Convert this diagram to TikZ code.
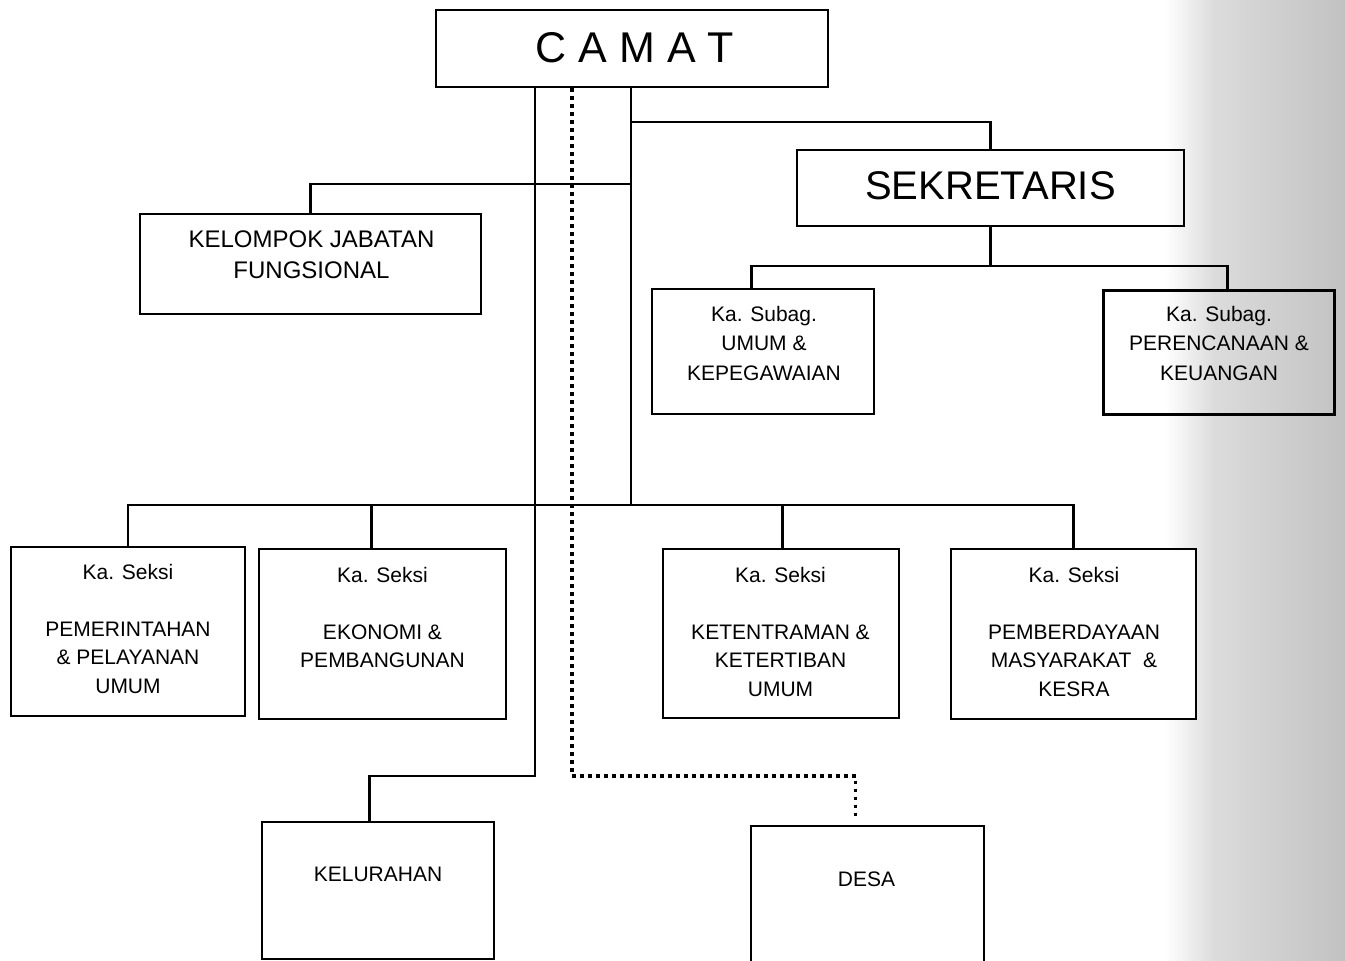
\documentclass[tikz,border=0pt]{standalone}
\usepackage{fontspec}
\setmainfont{Liberation Sans}
\usetikzlibrary{calc}
\newcommand\myfA{\fontsize{21}{28.5}\selectfont}
\newcommand\myfB{\fontsize{21}{29.5}\selectfont}
\newcommand\myfC{\fontsize{24}{31}\selectfont}
\newcommand\myfD{\fontsize{40}{48}\selectfont}
\newcommand\myfE{\fontsize{43}{50}\selectfont}
\begin{document}
\begin{tikzpicture}[x=1pt,y=-1pt,
  box/.style={draw, line width=2.7pt, inner sep=0pt},
  txt/.style={inner sep=0pt, align=center, anchor=north},
  conn/.style={line width=2.7pt},
  dotline/.style={line width=3.2pt, dash pattern=on 3.2pt off 4.8pt}]
\useasboundingbox (0,0) rectangle (1345,961);
\shade[left color=white, right color=black!14] (1165,0) rectangle (1215,961);
\shade[left color=black!14, right color=black!24] (1215,0) rectangle (1345,961);

% boxes
\node[box, minimum width=392pt, minimum height=77pt] (camat) at (632,48.5) {};
\node[box, minimum width=387pt, minimum height=76pt] (sek) at (990.5,188) {};
\node[box, minimum width=341pt, minimum height=100pt] (kjf) at (310.5,264) {};
\node[box, minimum width=222pt, minimum height=125pt] (umum) at (763,351.5) {};
\node[box, line width=3pt, minimum width=231pt, minimum height=124pt] (ren) at (1218.5,352) {};
\node[box, minimum width=234pt, minimum height=169pt] (s1) at (128,631.5) {};
\node[box, minimum width=247pt, minimum height=170pt] (s2) at (382.5,634) {};
\node[box, minimum width=236pt, minimum height=169pt] (s3) at (781,633.5) {};
\node[box, fill=white, minimum width=245pt, minimum height=170pt] (s4) at (1073.5,634) {};
\node[box, minimum width=232pt, minimum height=137pt] (kel) at (378,890.5) {};
\node[box, minimum width=233pt, minimum height=139pt] (desa) at (867.5,895.5) {};

% texts
\node[txt, font=\myfE] (tcamat) at (635,32) {C\ A\ M\ A\ T};
\node[txt, font=\myfD] (tsek) at (990.5,171) {SEKRETARIS};
\node[txt, font=\myfC] (tkjf) at (311.5,231) {KELOMPOK JABATAN\\FUNGSIONAL};
\node[txt, font=\myfB] (tumum) at (764,306) {Ka. Subag.\\UMUM \&\\KEPEGAWAIAN};
\node[txt, font=\myfB] (tren) at (1219,306) {Ka. Subag.\\PERENCANAAN \&\\KEUANGAN};
\node[txt, font=\myfA] (ts1) at (128,564) {Ka. Seksi\\ \\PEMERINTAHAN\\\& PELAYANAN\\UMUM};
\node[txt, font=\myfA] (ts2) at (382.5,567) {Ka. Seksi\\ \\EKONOMI \&\\PEMBANGUNAN};
\node[txt, font=\myfA] (ts3) at (780.5,567) {Ka. Seksi\\ \\KETENTRAMAN \&\\KETERTIBAN\\UMUM};
\node[txt, font=\myfA] (ts4) at (1074,567) {Ka. Seksi\\ \\PEMBERDAYAAN\\MASYARAKAT\ \ \&\\KESRA};
\node[txt, font=\myfA] (tkel) at (378,867) {KELURAHAN};
\node[txt, font=\myfA] (tdesa) at (866.5,872) {DESA};

% connector coordinates
\coordinate (a1) at (535,776);
\coordinate (d1) at (572,776);
\coordinate (r1) at (631,505);
\coordinate (r2) at (631,122);
\coordinate (r3) at (631,184);
\coordinate (s0) at (990.5,266);
\coordinate (bL) at (128,505);
\coordinate (bR) at (1073.5,505);
\coordinate (kelT) at ($(kel.north west)+(109,0)$);
\coordinate (desaT) at ($(desa.north west)+(106,-4)$);
\coordinate (umT) at ($(umum.north west)+(101,0)$);
\coordinate (reT) at ($(ren.north west)+(126,0)$);
\coordinate (s2T) at ($(s2.north west)+(114,0)$);
\coordinate (s3T) at ($(s3.north west)+(121,0)$);

% connectors
\draw[conn] (camat.south -| a1) -- (a1) -| (kelT);
\draw[dotline] (camat.south -| d1) -- (d1) -| (desaT);
\draw[conn] (camat.south -| r1) -- (r1);
\draw[conn] (r2) -| (sek.north);
\draw[conn] (r3) -| (kjf.north);
\draw[conn] (sek.south) -- (s0);
\draw[conn] (umT) |- (s0) -| (reT);
\draw[conn] (s1.north) -- (bL) -- (bR) -- (s4.north);
\draw[conn] (s2T) -- (s2T |- bL);
\draw[conn] (s3T) -- (s3T |- bL);
\end{tikzpicture}
\end{document}
